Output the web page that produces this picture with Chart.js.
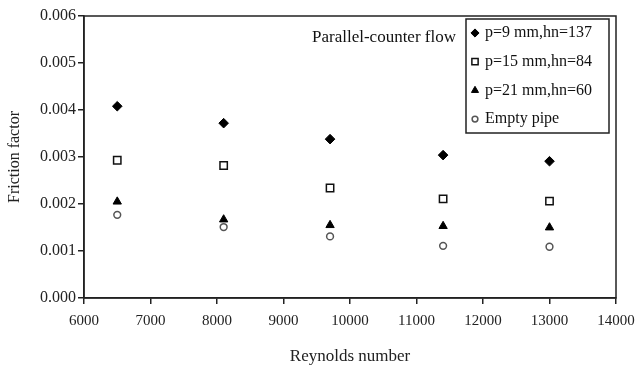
<!DOCTYPE html>
<html>
<head>
<meta charset="utf-8">
<script src="https://cdn.jsdelivr.net/npm/chart.js@4/dist/chart.umd.min.js"></script>
<style>
  html, body { margin: 0; padding: 0; background: #fff; }
  #wrap { width: 640px; height: 370px; }
</style>
</head>
<body>
<div id="wrap"><canvas id="chart" width="640" height="370"></canvas></div>
<script>
// Reynolds numbers (x) shared by all series
const reynolds = [6500, 8100, 9700, 11400, 13000];

// friction factor per configuration
const pitch9 = [0.00408, 0.00372, 0.00338, 0.00304, 0.00291];
const pitch15 = [0.00293, 0.00282, 0.00234, 0.00211, 0.00206];
const pitch21 = [0.00205, 0.00167, 0.00155, 0.00153, 0.00150];
const emptyPipe = [0.00177, 0.00151, 0.00131, 0.00111, 0.00109];

const seriesLabels = ['p=9 mm,hn=137', 'p=15 mm,hn=84', 'p=21 mm,hn=60', 'Empty pipe'];
const noteText = 'Parallel-counter flow';

const xTicks = [6000, 7000, 8000, 9000, 10000, 11000, 12000, 13000, 14000];
const yTicks = [0, 0.001, 0.002, 0.003, 0.004, 0.005, 0.006];

const serif = "'Liberation Serif', 'DejaVu Serif', serif";

const toPoints = (vals) => vals.map((v, i) => ({ x: reynolds[i], y: v }));

const styles = [
  { pointStyle: 'rectRot', pointRadius: 4.8, pointBackgroundColor: '#000', pointBorderColor: '#000', pointBorderWidth: 1 },
  { pointStyle: 'rect', pointRadius: 5.2, pointBackgroundColor: '#fff', pointBorderColor: '#111', pointBorderWidth: 1.5 },
  { pointStyle: 'triangle', pointRadius: 4.8, pointBackgroundColor: '#000', pointBorderColor: '#000', pointBorderWidth: 1 },
  { pointStyle: 'circle', pointRadius: 3.4, pointBackgroundColor: '#fff', pointBorderColor: '#555', pointBorderWidth: 1.5 }
];

const allValues = [pitch9, pitch15, pitch21, emptyPipe];

const datasets = allValues.map((vals, i) => Object.assign({
  label: seriesLabels[i],
  data: toPoints(vals),
  showLine: false,
  pointHoverRadius: styles[i].pointRadius
}, styles[i]));

// frame around the plot area + legend box + note
const framePlugin = {
  id: 'frame',
  afterDraw(chart) {
    const ctx = chart.ctx;
    const a = chart.chartArea;
    ctx.save();
    ctx.strokeStyle = '#222';
    ctx.lineWidth = 1.5;
    ctx.strokeRect(a.left, a.top, a.right - a.left, a.bottom - a.top);

    // legend box in the top right corner
    const bx = a.right - 150, by = a.top + 3, bw = 143, bh = 114;
    ctx.fillStyle = '#fff';
    ctx.fillRect(bx, by, bw, bh);
    ctx.lineWidth = 1.5;
    ctx.strokeRect(bx, by, bw, bh);

    ctx.font = '17px ' + serif;
    ctx.textBaseline = 'middle';
    ctx.textAlign = 'left';
    ctx.fillStyle = '#111';
    ctx.fillText(noteText, a.left + 228, a.top + 22);

    ctx.font = '16px ' + serif;
    const drawPoint = Chart.helpers && Chart.helpers.drawPoint;
    seriesLabels.forEach((lab, i) => {
      const y = by + 14 + i * 28.7;
      const s = styles[i];
      ctx.fillStyle = s.pointBackgroundColor;
      ctx.strokeStyle = s.pointBorderColor;
      ctx.lineWidth = s.pointBorderWidth;
      const r = s.pointRadius * 0.85;
      if (drawPoint) {
        drawPoint(ctx, { pointStyle: s.pointStyle, radius: r, rotation: 0, borderWidth: s.pointBorderWidth }, bx + 9, y);
      }
      ctx.fillStyle = '#111';
      ctx.fillText(lab, bx + 19, y);
    });
    ctx.restore();
  }
};

new Chart(document.getElementById('chart'), {
  type: 'scatter',
  data: { datasets },
  options: {
    responsive: false,
    animation: false,
    layout: { padding: { top: 16, right: 24, left: 0, bottom: 0 } },
    plugins: {
      legend: { display: false },
      tooltip: { enabled: false }
    },
    scales: {
      x: {
        type: 'linear',
        min: 6000,
        max: 14000,
        afterBuildTicks: (scale) => { scale.ticks = xTicks.map(v => ({ value: v })); },
        afterFit: (scale) => {
          scale.height = 72;
          scale.paddingRight = 0;
          scale.paddingLeft = 0;
        },
        grid: { display: true, drawOnChartArea: false, drawTicks: true, tickLength: 6, color: '#222', lineWidth: 1.5 },
        border: { display: true, color: '#222', width: 1.5 },
        ticks: {
          color: '#222',
          font: { family: serif, size: 15 },
          padding: 8,
          maxRotation: 0,
          callback: (v) => String(v)
        },
        title: {
          display: true,
          text: 'Reynolds number',
          color: '#222',
          font: { family: serif, size: 17 },
          padding: { top: 0, bottom: 3 }
        }
      },
      y: {
        type: 'linear',
        min: 0,
        max: 0.006,
        afterBuildTicks: (scale) => { scale.ticks = yTicks.map(v => ({ value: v })); },
        afterFit: (scale) => { scale.width = 84; },
        grid: { display: true, drawOnChartArea: false, drawTicks: true, tickLength: 6, color: '#222', lineWidth: 1.5 },
        border: { display: true, color: '#222', width: 1.5 },
        ticks: {
          color: '#222',
          font: { family: serif, size: 16 },
          padding: 2,
          callback: (v) => Number(v).toFixed(3)
        },
        title: {
          display: true,
          text: 'Friction factor',
          color: '#222',
          font: { family: serif, size: 16 },
          padding: { top: 5, bottom: 0 }
        }
      }
    }
  },
  plugins: [framePlugin]
});
</script>
</body>
</html>
